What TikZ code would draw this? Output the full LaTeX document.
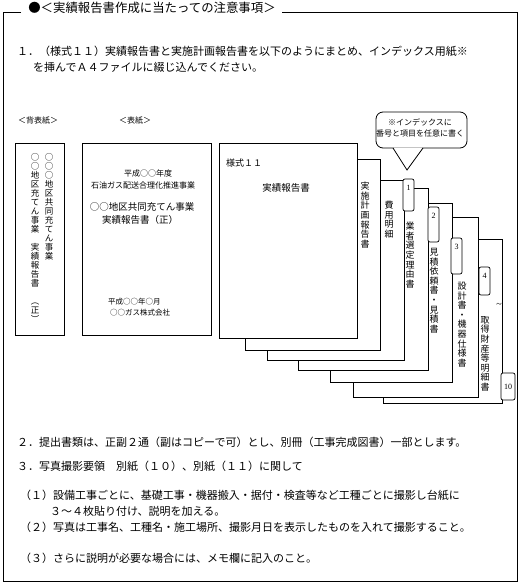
\documentclass[tikz,border=0pt]{standalone}
\usepackage{fontspec}
\setmainfont{Noto Sans CJK JP}
\newfontfamily\tabfont{Liberation Serif}

\tikzset{
  frame/.style={draw, line width=0.8pt},
  sheet/.style={draw, fill=white, line width=0.8pt},
  tab/.style={draw, fill=white, rounded corners=2pt, line width=0.7pt},
  tabnum/.style={inner sep=0pt, font=\tabfont\fontsize{8}{8}\selectfont},
  body/.style={anchor=west, inner sep=0pt, font=\fontsize{11}{11}\selectfont},
  small/.style={inner sep=0pt, font=\fontsize{8}{8}\selectfont},
  tate/.style={anchor=north, inner sep=0pt, align=center, font=\fontsize{9}{9.6}\selectfont},
  backtate/.style={tate, font=\fontsize{8.5}{9}\selectfont},
}

\begin{document}
\begin{tikzpicture}[x=1pt,y=-1pt]
\useasboundingbox (0,0) rectangle (520,584);

% frame with title
\draw[frame] (21,12) -- (3,12) -- (3,581) -- (517,581) -- (517,12) -- (282,12);
\node[inner sep=0pt, font=\fontsize{12.4}{12.4}\selectfont] (title) at (152,8) {●＜実績報告書作成に当たっての注意事項＞};

\node[body] (item1a) at (17,51) {１．（様式１１）実績報告書と実施計画報告書を以下のようにまとめ、インデックス用紙※};
\node[body] (item1b) at (33,67) {を挿んでＡ４ファイルに綴じ込んでください。};

% back cover
\node[small] (backlbl) at (38,121) {＜背表紙＞};
\draw[sheet] (15,143) rectangle (64,335);
\node[backtate] (backR) at (49,153) {○\\○\\○\\地\\区\\共\\同\\充\\て\\ん\\事\\業};
\node[backtate] (backL) at (35,153) {○\\○\\地\\区\\充\\て\\ん\\事\\業\\　\\実\\績\\報\\告\\書\\　\\︵\\正\\︶};

% cover
\node[small] (coverlbl) at (135,121) {＜表紙＞};
\draw[sheet] (82,143) rectangle (211,335);
\node[small] (cov1) at (148,173) {平成○○年度};
\node[small] (cov2) at (143,185) {石油ガス配送合理化推進事業};
\node[inner sep=0pt, font=\fontsize{9.5}{9.5}\selectfont] (cov3) at (142,207) {○○地区共同充てん事業};
\node[inner sep=0pt, font=\fontsize{9.5}{9.5}\selectfont] (cov4) at (140,220) {実績報告書（正）};
\node[small, anchor=west, font=\fontsize{7.5}{7.5}\selectfont] (cov5) at (108,302) {平成○○年○月};
\node[small, anchor=west, font=\fontsize{7.5}{7.5}\selectfont] (cov6) at (110,313) {○○ガス株式会社};

% stacked sheets, back to front
\foreach \l/\t/\r/\b in {383/239/502/403, 353/217/478/397, 330/203/452/382,
    298/188/428/370, 267/180/404/360, 245/159/380/350, 219/143/357/338}
  \draw[sheet] (\l,\t) rectangle (\r,\b);

\node[inner sep=0pt, anchor=west, font=\fontsize{9}{9}\selectfont] (form) at (226,163) {様式１１};
\node[inner sep=0pt, font=\fontsize{9.5}{9.5}\selectfont] (report) at (286,188) {実績報告書};

\node[tate] (plan) at (365,182) {実\\施\\計\\画\\報\\告\\書};
\node[tate] (cost) at (389,201) {費\\用\\明\\細};
\node[tate] (select) at (410,222) {業\\者\\選\\定\\理\\由\\書};
\node[tate] (quote) at (434,248) {見\\積\\依\\頼\\書\\・\\見\\積\\書};
\node[tate] (design) at (462,282) {設\\計\\書\\・\\機\\器\\仕\\様\\書};
\node[tate] (assets) at (485,316) {取\\得\\財\\産\\等\\明\\細\\書};

% index tabs
\foreach \x/\y/\h/\n in {403/179/32/1, 428/207/35/2, 451/238/36/3, 479/267/28/4}
  \draw[tab] (\x,\y) rectangle ++(11,\h) node[tabnum] (tab\n) at (\x+5.5,\y+9) {\n};
\draw[tab] (501,373) rectangle (515,400) node[tabnum] (tab10) at (508,387) {10};
\node[tabnum, font=\tabfont\fontsize{10}{10}\selectfont] (gap) at (499,305) {\textasciitilde};

% callout
\draw[sheet, rounded corners=7pt] (376,112) rectangle (467,148);
\fill[white] (393.6,147.6) -- (422.4,147.6) -- (407,169) -- cycle;
\draw[line width=0.8pt] (393,148) -- (407,170) -- (423,148);
\node[small, align=center, font=\fontsize{8}{11}\selectfont] (note) at (420,128) {※インデックスに\\番号と項目を任意に書く};

% items 2 and 3
\node[body] (item2) at (17,442) {２．提出書類は、正副２通（副はコピーで可）とし、別冊（工事完成図書）一部とします。};
\node[body] (item3) at (17,466) {３．写真撮影要領　別紙（１０）、別紙（１１）に関して};
\node[body] (sub1a) at (20,495) {（１）設備工事ごとに、基礎工事・機器搬入・据付・検査等など工種ごとに撮影し台紙に};
\node[body] (sub1b) at (50,511) {３～４枚貼り付け、説明を加える。};
\node[body] (sub2) at (20,527) {（２）写真は工事名、工種名・施工場所、撮影月日を表示したものを入れて撮影すること。};
\node[body] (sub3) at (20,558) {（３）さらに説明が必要な場合には、メモ欄に記入のこと。};

\end{tikzpicture}
\end{document}
